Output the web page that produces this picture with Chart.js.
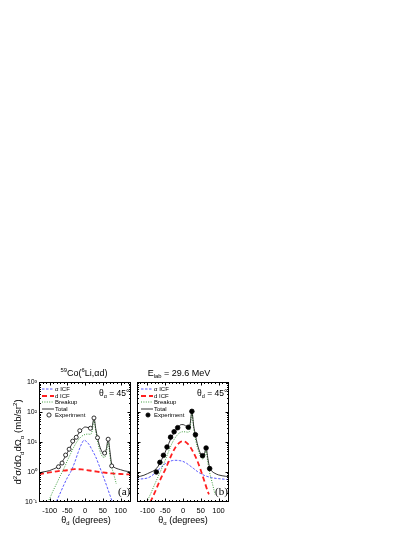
<!DOCTYPE html>
<html><head><meta charset="utf-8">
<script src="https://cdn.jsdelivr.net/npm/chart.js@4.4.1/dist/chart.umd.min.js"></script>
<style>
html,body{margin:0;padding:0;background:#fff;}
#wrap{position:relative;width:415px;height:537px;overflow:hidden;font-family:"Liberation Sans",Arial,sans-serif;color:#000;}
canvas{position:absolute;}
.t{position:absolute;white-space:nowrap;line-height:1;}
.t sup,.t sub{font-size:65%;line-height:0;}
svg{position:absolute;overflow:visible;}
</style></head><body>
<div id="wrap">
<canvas id="pa" width="136" height="161" style="left:0;top:376px"></canvas>
<canvas id="pb" width="102" height="161" style="left:132px;top:376px"></canvas>
</div>
<script>
const FONT = '"Liberation Sans", Arial, sans-serif';

// ---- data, panel (a): theta_alpha = 45 deg ----
const A_EXP_X = [-75, -65, -55, -45, -35, -25, -15, 15, 25, 35, 55, 65, 75];
const A_EXP_Y = [1.5, 2.0, 3.7, 5.8, 10.8, 14.5, 24, 29, 64, 14, 4.3, 12.5, 1.6];
const A_TOT_X = [-130, -120, -110, -100, -90, -80, -70, -60, -50, -40, -30, -20, -10, 0, 10, 15, 20, 25, 30, 35, 40, 45, 50, 55, 60, 65, 70, 75, 80, 90, 100, 110, 120, 130];
const A_TOT_Y = [0.93, 1.0, 1.05, 1.12, 1.25, 1.42, 1.8, 2.7, 4.4, 7.5, 12, 18, 26, 32, 30, 28, 33, 65, 28, 14, 8, 5.5, 4.3, 4.2, 6, 12.5, 5, 1.8, 1.5, 1.3, 1.2, 1.1, 1.05, 1.0];
const A_BRK_X = [-105, -100, -90, -80, -70, -60, -50, -40, -30, -20, -10, 0, 10, 15, 20, 25, 30, 35, 40, 45, 50, 55, 60, 65, 70, 75, 80, 85, 88];
const A_BRK_Y = [0.1, 0.13, 0.24, 0.42, 0.75, 1.3, 2.4, 4.3, 7.5, 11.5, 15.5, 18, 18.5, 18, 24, 55, 23, 11, 6, 4, 3.2, 3.1, 4.5, 10, 3.5, 1.5, 0.9, 0.55, 0.4];
const A_AICF_X = [-90, -80, -70, -60, -50, -40, -30, -20, -10, -3, 0, 10, 20, 30, 40, 50, 60, 70, 80, 90];
const A_AICF_Y = [0.06, 0.11, 0.2, 0.37, 0.65, 1.05, 2.0, 4.4, 8.7, 11.5, 11.3, 8.7, 5.4, 3.2, 1.6, 0.78, 0.37, 0.17, 0.08, 0.04];
const A_DICF_X = [-130, -100, -75, -50, -30, -10, 0, 25, 50, 75, 100, 130];
const A_DICF_Y = [0.86, 0.97, 1.08, 1.15, 1.25, 1.22, 1.18, 1.07, 0.97, 0.9, 0.86, 0.83];

// ---- data, panel (b): theta_d = 45 deg ----
const B_EXP_X = [-75, -65, -55, -45, -35, -25, -15, 15, 25, 35, 55, 65, 75];
const B_EXP_Y = [1.0, 2.1, 3.6, 6.8, 14.5, 22, 30, 31, 105, 17.5, 3.5, 6.3, 1.3];
const B_TOT_X = [-130, -120, -110, -100, -90, -80, -70, -60, -50, -40, -30, -20, -10, -5, 0, 10, 15, 20, 25, 30, 35, 40, 45, 50, 55, 60, 65, 70, 75, 80, 90, 100, 110, 120, 130];
const B_TOT_Y = [0.68, 0.72, 0.78, 0.88, 1.0, 1.15, 1.55, 2.6, 4.6, 9, 16, 25, 35, 38, 38, 33, 31, 40, 105, 35, 17, 9, 5.5, 4, 3.4, 4, 6.3, 2.8, 1.4, 1.1, 0.9, 0.8, 0.75, 0.72, 0.7];
const B_BRK_X = [-102, -90, -80, -70, -60, -50, -40, -30, -20, -10, 0, 10, 15, 20, 25, 30, 35, 40, 45, 50, 55, 60, 65, 70, 75, 80, 85, 90];
const B_BRK_Y = [0.1, 0.2, 0.38, 0.7, 1.3, 2.5, 5, 9.5, 15, 20, 22, 21.5, 21, 28, 92, 28, 12.5, 7, 4.5, 3.3, 2.7, 3.2, 5, 2, 0.95, 0.55, 0.32, 0.18];
const B_AICF_X = [-130, -110, -100, -90, -80, -70, -60, -50, -40, -30, -20, -10, 0, 10, 20, 30, 40, 50, 60, 70, 80, 100, 130];
const B_AICF_Y = [0.57, 0.6, 0.63, 0.72, 0.9, 1.15, 1.5, 1.9, 2.2, 2.4, 2.45, 2.4, 2.25, 1.95, 1.6, 1.3, 1.05, 0.88, 0.77, 0.7, 0.65, 0.6, 0.56];
const B_DICF_X = [-92, -80, -70, -60, -50, -40, -30, -20, -10, 0, 10, 20, 30, 40, 50, 60, 70, 73];
const B_DICF_Y = [0.1, 0.2, 0.38, 0.7, 1.2, 2.3, 4.3, 7, 9.5, 10.5, 9.5, 7, 4.3, 2.4, 1.15, 0.5, 0.22, 0.18];

// ---- axes ----
const X_TICKS = [-100, -50, 0, 50, 100];
const Y_TICKS = [0.1, 1, 10, 100, 1000];
const SUP = { '-1': '⁻¹', '0': '⁰', '1': '¹', '2': '²', '3': '³' };

const STYLE = {
  aicf: { borderColor: '#4646ff', borderWidth: 0.9, borderDash: [2.5, 1.5] },
  dicf: { borderColor: '#ff2020', borderWidth: 1.8, borderDash: [5, 3] },
  brk: { borderColor: '#3d9d3d', borderWidth: 1, borderDash: [1, 1.4] },
  tot: { borderColor: '#000', borderWidth: 0.8, borderDash: [] },
};

const pts = (xs, ys) => xs.map((x, i) => ({ x, y: ys[i] }));

// frame with inward ticks on all four sides
const frame = {
  id: 'frame',
  afterDatasetsDraw(chart) {
    const { ctx, chartArea: a, scales: { x, y } } = chart;
    const L = Math.round(a.left) + 0.5, R = Math.round(a.right) - 0.5;
    const T = Math.round(a.top) + 0.5, B = Math.round(a.bottom) - 0.5;
    ctx.save();
    ctx.strokeStyle = '#000'; ctx.lineWidth = 1; ctx.setLineDash([]);
    ctx.strokeRect(L, T, R - L, B - T);
    ctx.beginPath();
    for (let v = -120; v <= 120; v += 10) {
      const len = X_TICKS.includes(v) ? 3 : 1.5;
      const px = Math.round(x.getPixelForValue(v)) + 0.5;
      ctx.moveTo(px, B); ctx.lineTo(px, B - len);
      ctx.moveTo(px, T); ctx.lineTo(px, T + len);
    }
    for (const d of Y_TICKS.slice(0, -1)) {
      for (let m = 1; m <= 9; m++) {
        if (d === 0.1 && m === 1) continue;
        const len = m === 1 ? 3 : 1.5;
        const py = Math.round(y.getPixelForValue(d * m)) + 0.5;
        ctx.moveTo(L, py); ctx.lineTo(L + len, py);
        ctx.moveTo(R, py); ctx.lineTo(R - len, py);
      }
    }
    ctx.stroke();
    ctx.restore();
  }
};

function lineSet(data, st) {
  return { data, ...st, pointRadius: 0, fill: false, cubicInterpolationMode: 'monotone', clip: 0 };
}

function makePanel(id, d, filled, showY, pad) {
  return new Chart(document.getElementById(id), {
    type: 'line',
    data: { datasets: [
      { data: pts(d.ex, d.ey), showLine: false, pointRadius: filled ? 2.3 : 2.0, pointBorderWidth: 0.8,
        pointBackgroundColor: filled ? '#000' : '#fff', pointBorderColor: '#000', clip: 0 },
      lineSet(pts(d.tx, d.ty), STYLE.tot),
      lineSet(pts(d.bx, d.by), STYLE.brk),
      lineSet(pts(d.dx, d.dy), STYLE.dicf),
      lineSet(pts(d.ax, d.ay), STYLE.aicf),
    ] },
    options: {
      responsive: false, animation: false, events: [],
      layout: { padding: pad },
      plugins: { legend: { display: false }, tooltip: { enabled: false } },
      scales: {
        x: { type: 'linear', min: -130, max: 130,
          afterBuildTicks: s => { s.ticks = X_TICKS.map(v => ({ value: v })); },
          afterFit: s => { s.height = 35; },
          grid: { display: false, drawTicks: false }, border: { display: false },
          ticks: { color: '#000', font: { family: FONT, size: 7.5 }, padding: 4, maxRotation: 0, autoSkip: false } },
        y: { type: 'logarithmic', min: 0.1, max: 1000, display: showY,
          afterBuildTicks: s => { s.ticks = Y_TICKS.map(v => ({ value: v })); },
          afterFit: s => { s.width = showY ? 39 : 0; },
          grid: { display: false, drawTicks: false }, border: { display: false },
          ticks: { color: '#000', font: { family: FONT, size: 7 }, padding: 2, autoSkip: false,
            callback: v => '10' + SUP[String(Math.round(Math.log10(v)))] } },
      },
    },
    plugins: [frame],
  });
}

makePanel('pa', { ex: A_EXP_X, ey: A_EXP_Y, tx: A_TOT_X, ty: A_TOT_Y, bx: A_BRK_X, by: A_BRK_Y,
  dx: A_DICF_X, dy: A_DICF_Y, ax: A_AICF_X, ay: A_AICF_Y }, false, true, { left: 0, right: 2, top: 6, bottom: 0 });
makePanel('pb', { ex: B_EXP_X, ey: B_EXP_Y, tx: B_TOT_X, ty: B_TOT_Y, bx: B_BRK_X, by: B_BRK_Y,
  dx: B_DICF_X, dy: B_DICF_Y, ax: B_AICF_X, ay: B_AICF_Y }, true, false, { left: 2, right: 2, top: 6, bottom: 0 });

// ---- text overlays ----
const wrap = document.getElementById('wrap');
function txt(html, x, y, size, opts = {}) {
  const el = document.createElement('div');
  el.className = 't';
  el.innerHTML = html;
  el.style.left = x + 'px'; el.style.top = y + 'px';
  el.style.fontSize = size + 'px';
  if (opts.family) el.style.fontFamily = opts.family;
  el.style.transform = (opts.center ? 'translate(-50%,-50%)' : 'translateY(-50%)') + (opts.rot ? ' rotate(-90deg)' : '');
  wrap.appendChild(el);
}
txt('<sup>59</sup>Co(<sup>6</sup>Li,αd)', 84, 373, 9, { center: true });
txt('E<sub>lab</sub> = 29.6 MeV', 179, 373, 9, { center: true });
txt('θ<sub>α</sub> = 45°', 99, 393, 8.5);
txt('θ<sub>d</sub> = 45°', 197, 393, 8.5);
txt('(a)', 118, 491, 11, { family: '"Liberation Serif", serif' });
txt('(b)', 215, 491, 11, { family: '"Liberation Serif", serif' });
txt('θ<sub>d</sub> (degrees)', 86, 520, 9, { center: true });
txt('θ<sub>α</sub> (degrees)', 183, 520, 9, { center: true });
txt('d<sup>2</sup>σ/dΩ<sub>d</sub>dΩ<sub>α</sub> (mb/sr<sup>2</sup>)', 18, 442, 9.5, { center: true, rot: true });

// legends
const LEG = [['α ICF', 'aicf'], ['d ICF', 'dicf'], ['Breakup', 'brk'], ['Total', 'tot'], ['Experiment', 'exp']];
const LEG_Y = [389, 395.5, 402, 408.5, 415];
function legend(x0, filled) {
  LEG.forEach(([label, k], i) => {
    const y = LEG_Y[i];
    let svg;
    if (k === 'exp') {
      svg = `<svg width="12" height="6" style="left:${x0}px;top:${y - 3}px"><circle cx="7" cy="3" r="2.1" fill="${filled ? '#000' : '#fff'}" stroke="#000" stroke-width="0.8"/></svg>`;
    } else {
      const s = STYLE[k];
      svg = `<svg width="12" height="6" style="left:${x0}px;top:${y - 3}px"><line x1="0" y1="3" x2="12" y2="3" stroke="${s.borderColor}" stroke-width="${s.borderWidth}" stroke-dasharray="${s.borderDash.join(' ')}"/></svg>`;
    }
    wrap.insertAdjacentHTML('beforeend', svg);
    txt(label, x0 + 13, y, 6);
  });
}
legend(42, false);
legend(141, true);
</script>
</body></html>
